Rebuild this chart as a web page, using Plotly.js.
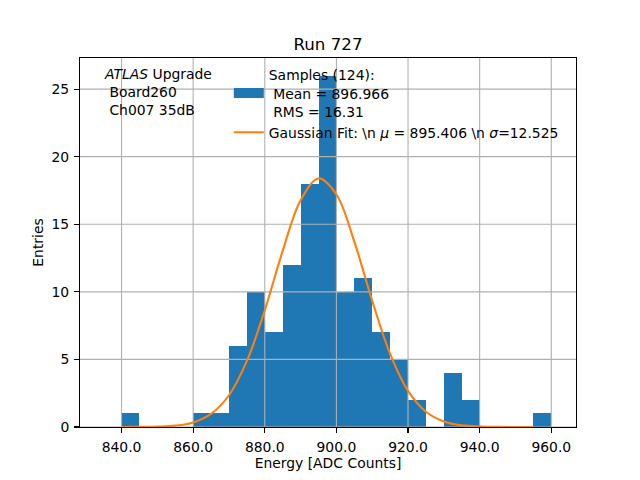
<!DOCTYPE html>
<html>
<head>
<meta charset="utf-8">
<script src="https://cdn.plot.ly/plotly-3.0.1.min.js"></script>
<style>html,body{margin:0;padding:0;background:#fff;}#plot{width:640px;height:480px;}</style>
</head>
<body>
<div id="plot"></div>
<script>
// Histogram bins (left edges, width 5 ADC counts) and entries
const binLeft = [840,845,850,855,860,865,870,875,880,885,890,895,900,905,910,915,920,925,930,935,940,945,950,955];
const counts  = [1,0,0,0,1,1,6,10,7,12,18,26,10,11,7,5,2,0,4,2,0,0,0,1];
const binWidth = 5;

// Gaussian fit curve
const fitX = [840,845,850,855,860,865,870,875,880,885,890,895,900,905,910,915,920,925,930,935,940,945,950,955];
const fitY = [0.001,0.006,0.026,0.10,0.34,0.97,2.35,4.89,8.64,13.03,16.77,18.39,17.20,13.71,9.33,5.41,2.67,1.13,0.41,0.12,0.033,0.007,0.001,0.0002];

const xTicks = [840,860,880,900,920,940,960];
const yTicks = [0,5,10,15,20,25];
const xRange = [828.4, 966.9];
const yRange = [0, 27.3];

const histLabel = 'Samples (124):<br>\u00a0Mean = 896.966<br>\u00a0RMS = 16.31';
const fitLabel = 'Gaussian Fit: \\n <i>\u03bc</i> = 895.406 \\n <i>\u03c3</i>=12.525';
const title = 'Run 727';
const xTitle = 'Energy [ADC Counts]';
const yTitle = 'Entries';
const infoText = '<i>ATLAS</i> Upgrade<br>\u00a0Board260<br>\u00a0Ch007 35dB';

const font = {family: 'DejaVu Sans', size: 13.9, color: '#000'};
const barColor = '#1f77b4';
const lineColor = '#ff7f0e';
const gridColor = '#b0b0b0';

// grid lines drawn as a trace so they sit above the bars but below the fit line (matplotlib order)
const gx = [], gy = [];
xTicks.forEach(t => { gx.push(t, t, null); gy.push(yRange[0], yRange[1], null); });
yTicks.forEach(t => { gx.push(xRange[0], xRange[1], null); gy.push(t, t, null); });

const traces = [
  {type: 'bar', x: binLeft, y: counts, width: binWidth, offset: 0,
   marker: {color: barColor, line: {width: 0}}, showlegend: false, hoverinfo: 'skip'},
  {type: 'scatter', mode: 'lines', x: gx, y: gy, connectgaps: false,
   line: {color: gridColor, width: 1.1}, showlegend: false, hoverinfo: 'skip'},
  // legend entry for the histogram (wide patch like matplotlib)
  {type: 'scatter', mode: 'lines', x: [null], y: [null],
   line: {color: barColor, width: 10}, name: histLabel},
  {type: 'scatter', mode: 'lines', x: fitX, y: fitY,
   line: {color: lineColor, width: 2.1, shape: 'spline'}, name: fitLabel}
];

const axisCommon = {
  showline: true, mirror: true, linecolor: '#000', linewidth: 1.1,
  ticks: 'outside', ticklen: 4.9, tickwidth: 1.1, tickcolor: '#000',
  showgrid: false, zeroline: false,
  layer: 'above traces', tickfont: font, ticklabelstandoff: 2
};

const layout = {
  width: 640, height: 480,
  margin: {l: 80, r: 64, t: 58, b: 53},
  paper_bgcolor: '#fff', plot_bgcolor: '#fff',
  font: font,
  bargap: 0,
  showlegend: true,
  title: {text: title, font: {family: 'DejaVu Sans', size: 16.7, color: '#000'},
          x: 0.5, xref: 'paper', y: 1, yref: 'paper', yanchor: 'bottom', pad: {b: 8}},
  xaxis: Object.assign({}, axisCommon, {range: xRange, tickvals: xTicks,
          ticktext: xTicks.map(v => v.toFixed(1)),
          title: {text: xTitle, font: font, standoff: 0}}),
  yaxis: Object.assign({}, axisCommon, {range: yRange, tickvals: yTicks,
          title: {text: yTitle, font: font, standoff: 4}}),
  legend: {x: 0.3, y: 0.996, xanchor: 'left', yanchor: 'top', bgcolor: 'rgba(0,0,0,0)',
           borderwidth: 0, font: font, valign: 'middle'},
  annotations: [{xref: 'paper', yref: 'paper', x: 0.044, y: 0.983, xanchor: 'left', yanchor: 'top',
                 align: 'left', showarrow: false, text: infoText, font: font}]
};

Plotly.newPlot('plot', traces, layout, {displayModeBar: false, staticPlot: true});
</script>
</body>
</html>
